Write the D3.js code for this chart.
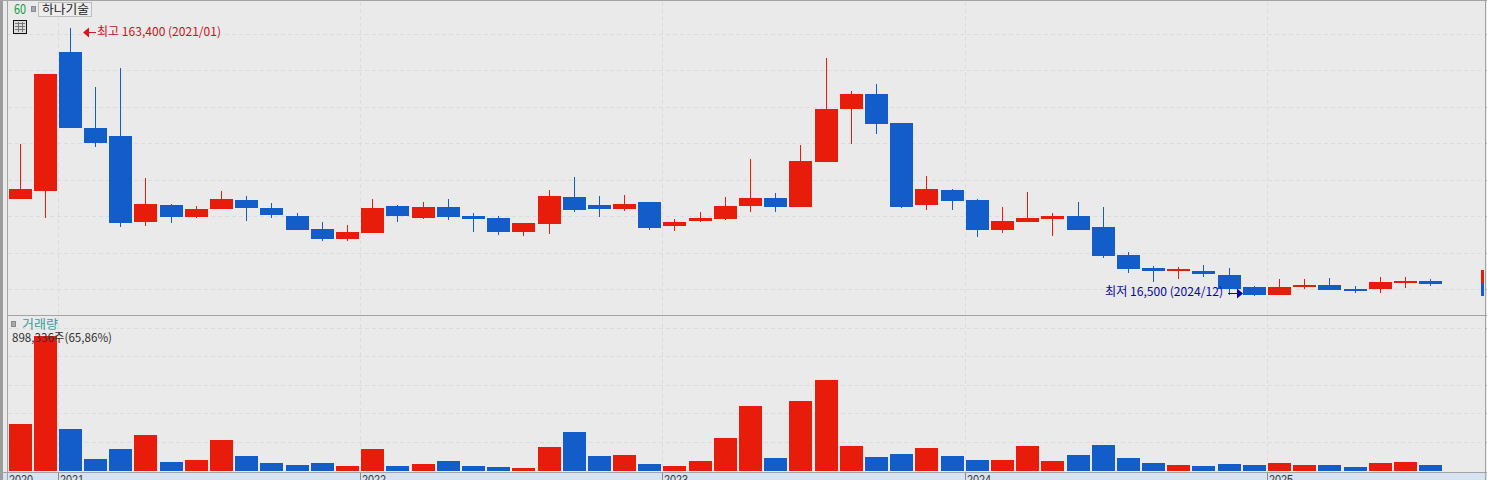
<!DOCTYPE html>
<html>
<head>
<meta charset="utf-8">
<script src="https://cdn.jsdelivr.net/npm/d3@7"></script>
<style>
  html, body { margin: 0; padding: 0; background: #eaeaea; overflow: hidden; }
  svg { display: block; font-family: "Noto Sans CJK KR", sans-serif; font-size: 12px; }
</style>
</head>
<body>
<svg id="chart" width="1487" height="480"></svg>
<script>
const months = [
  '2020/11', '2020/12',
  '2021/01', '2021/02', '2021/03', '2021/04', '2021/05', '2021/06', '2021/07', '2021/08', '2021/09', '2021/10', '2021/11', '2021/12',
  '2022/01', '2022/02', '2022/03', '2022/04', '2022/05', '2022/06', '2022/07', '2022/08', '2022/09', '2022/10', '2022/11', '2022/12',
  '2023/01', '2023/02', '2023/03', '2023/04', '2023/05', '2023/06', '2023/07', '2023/08', '2023/09', '2023/10', '2023/11', '2023/12',
  '2024/01', '2024/02', '2024/03', '2024/04', '2024/05', '2024/06', '2024/07', '2024/08', '2024/09', '2024/10', '2024/11', '2024/12',
  '2025/01', '2025/02', '2025/03', '2025/04', '2025/05', '2025/06', '2025/07'
];
const opens = [
  69700, 74100, 150200, 108600, 104200, 57100, 66400, 59800, 64200, 69100, 64700, 60400, 53200, 47800,
  51000, 65800, 59300, 65300, 60400, 59300, 51600, 56000, 70800, 66400, 64200, 68000,
  54900, 57600, 58700, 65800, 70200, 65300, 90000, 119000, 127200, 111300, 66400, 74600,
  69100, 52700, 57100, 58700, 60400, 54300, 39000, 31900, 30500, 30200, 28000, 21400,
  17100, 21400, 22500, 20300, 20300, 23600, 24700
];
const highs = [
  99800, 138200, 163400, 131100, 141500, 81200, 66900, 65800, 74100, 71300, 67500, 62000, 57100, 55400,
  69700, 66400, 68000, 69700, 62000, 60400, 56500, 74600, 81700, 71300, 71900, 68000,
  58700, 62600, 70800, 91600, 73000, 99300, 147000, 128900, 132700, 111300, 82300, 75200,
  69700, 65300, 73500, 62000, 68000, 65300, 40600, 33000, 32400, 33500, 31900, 22000,
  25800, 25800, 26400, 22000, 26900, 26900, 25800
];
const lows = [
  69700, 59300, 108600, 98200, 54300, 54900, 56500, 59300, 64200, 57600, 59300, 52700, 46700, 46700,
  51000, 57100, 58700, 58200, 51600, 49900, 49400, 50500, 62600, 59800, 63100, 52700,
  52100, 57100, 58200, 62600, 62600, 65300, 90000, 99800, 105300, 64700, 63600, 63600,
  48800, 51000, 57100, 49400, 52700, 37300, 29100, 24200, 25800, 26900, 17100, 16500,
  17100, 20300, 19800, 18200, 18200, 20900, 22000
];
const closes = [
  75200, 138200, 108600, 100400, 56500, 66900, 59800, 64200, 69700, 64700, 60900, 52700, 47800, 51600,
  64700, 60400, 65300, 59800, 58700, 51600, 56500, 71300, 63600, 64200, 66900, 53800,
  57100, 59300, 65800, 70200, 65300, 90500, 119000, 127200, 110800, 65300, 75200, 68600,
  52700, 57600, 59300, 60400, 52700, 38400, 31300, 30200, 31300, 28600, 20300, 17100,
  21400, 22500, 19800, 19800, 24200, 24700, 23100
];
const volumes = [
  312700, 898336, 279500, 79800, 146400, 239500, 59900, 73200, 206300, 99800, 53200, 39900, 53200, 33300,
  146400, 33300, 46600, 66500, 33300, 26600, 20000, 159700, 259500, 99800, 106500, 46600,
  33300, 66500, 219600, 432500, 86500, 465800, 605500, 166400, 93200, 113100, 153000, 99800,
  73200, 73200, 166400, 66500, 106500, 173000, 86500, 53200, 39900, 33300, 46600, 39900,
  53200, 39900, 39900, 26600, 53200, 59900, 39900
];
const yearStarts = ['2021/01', '2022/01', '2023/01', '2024/01', '2025/01'];
const priceTicks = [160000, 140000, 120000, 100000, 80000, 60000, 40000, 20000];
const volumeTicks = [190000, 380000, 570000, 760000, 950000];
const rangeMarker = [
  { from: 30800, to: 23600, up: true },
  { from: 23600, to: 16500, up: false }
];

const RED = '#e81c0a';
const BLUE = '#135dcb';
const GRID = '#dcdcdc';
const FRAME = '#a3a3a3';

const svg = d3.select('#chart');

const x = d3.scaleBand()
  .domain(months)
  .range([9.02, 1442.66])
  .paddingInner(0.08694)
  .paddingOuter(0);
const left = m => Math.floor(x(m));
const mid = m => left(m) + 11;

const price = d3.scaleLinear().domain([16500, 163400]).range([296, 28]);
const vol = d3.scaleLinear().domain([0, 898336]).range([471, 336]);

const candles = months.map((m, i) => ({
  m, open: opens[i], high: highs[i], low: lows[i], close: closes[i], volume: volumes[i],
  up: closes[i] >= opens[i]
}));
const colour = d => d.up ? RED : BLUE;

// frame
svg.append('rect').attr('width', 1487).attr('height', 480).attr('fill', '#eaeaea');
svg.append('rect').attr('x', 0).attr('y', 0).attr('width', 3).attr('height', 480).attr('fill', '#9c9c9c');
svg.append('rect').attr('x', 0).attr('y', 472).attr('width', 1487).attr('height', 8).attr('fill', '#d8e3f1');
svg.append('rect').attr('x', 0).attr('y', 472).attr('width', 3).attr('height', 8).attr('fill', '#9c9c9c');

// grid, right side ticks come with the axes
function gridAxis(scale, ticks) {
  const g = svg.append('g')
    .attr('transform', 'translate(1485,0)')
    .call(d3.axisRight(scale).tickValues(ticks).tickSize(2).tickFormat(''));
  g.select('.domain').remove();
  g.selectAll('.tick').attr('transform', d => `translate(0,${Math.floor(scale(d)) + 0.5})`);
  g.selectAll('.tick line').attr('stroke', FRAME);
  g.selectAll('.tick').append('line')
    .attr('x1', -1477).attr('x2', -4)
    .attr('stroke', GRID)
    .attr('stroke-dasharray', '4 3');
  return g;
}
gridAxis(price, priceTicks);
gridAxis(vol, volumeTicks);

svg.append('g').selectAll('line')
  .data(yearStarts)
  .join('line')
  .attr('x1', d => left(d) - 0.5)
  .attr('x2', d => left(d) - 0.5)
  .attr('y1', 2)
  .attr('y2', 472)
  .attr('stroke', GRID)
  .attr('stroke-dasharray', '4 3');

// candles
const candle = svg.append('g').selectAll('g')
  .data(candles)
  .join('g');

candle.append('rect')
  .attr('x', d => mid(d.m))
  .attr('y', d => Math.round(price(d.high)))
  .attr('width', 1)
  .attr('height', d => Math.round(price(d.low)) - Math.round(price(d.high)))
  .attr('fill', colour);

candle.append('rect')
  .attr('x', d => left(d.m))
  .attr('y', d => Math.round(price(Math.max(d.open, d.close))))
  .attr('width', 23)
  .attr('height', d => Math.max(2, Math.round(price(Math.min(d.open, d.close))) - Math.round(price(Math.max(d.open, d.close)))))
  .attr('fill', colour);

// volume
svg.append('g').selectAll('rect')
  .data(candles)
  .join('rect')
  .attr('x', d => left(d.m))
  .attr('y', d => Math.round(vol(d.volume)))
  .attr('width', 23)
  .attr('height', d => 471 - Math.round(vol(d.volume)))
  .attr('fill', colour);

// current range marker at the right edge
svg.append('g').selectAll('rect')
  .data(rangeMarker)
  .join('rect')
  .attr('x', 1481)
  .attr('y', d => Math.round(price(d.from)))
  .attr('width', 3)
  .attr('height', d => Math.round(price(d.to)) - Math.round(price(d.from)))
  .attr('fill', d => d.up ? RED : BLUE);

// time axis, labels run off the bottom edge as in the original screen
const timeAxis = svg.append('g')
  .attr('transform', 'translate(0,472)')
  .call(d3.axisBottom(x).tickValues(['2020/11', ...yearStarts]).tickSize(8).tickFormat(d => d.slice(0, 4)));
timeAxis.select('.domain').remove();
timeAxis.selectAll('.tick').attr('transform', d => `translate(${d === '2020/11' ? 7.5 : left(d) - 0.5},0)`);
timeAxis.selectAll('.tick line').attr('stroke', '#8a8a8a');
timeAxis.selectAll('.tick text')
  .attr('x', 1.5)
  .attr('y', 3)
  .attr('dy', '0.71em')
  .attr('text-anchor', 'start')
  .attr('fill', '#333')
  .attr('font-family', 'Liberation Sans')
  .attr('font-size', 12)
  .attr('textLength', 24)
  .attr('lengthAdjust', 'spacingAndGlyphs');

// pane borders
svg.append('rect').attr('x', 7).attr('y', 0).attr('width', 1).attr('height', 480).attr('fill', FRAME);
svg.append('rect').attr('x', 0).attr('y', 0).attr('width', 1487).attr('height', 1).attr('fill', FRAME);
svg.append('rect').attr('x', 8).attr('y', 315).attr('width', 1479).attr('height', 1).attr('fill', FRAME);
svg.append('rect').attr('x', 0).attr('y', 472).attr('width', 1487).attr('height', 1).attr('fill', FRAME);
svg.append('rect').attr('x', 1485).attr('y', 0).attr('width', 1).attr('height', 480).attr('fill', FRAME);

// header
function label(text, tx, ty, fill, width, size) {
  const t = svg.append('text')
    .attr('x', tx)
    .attr('y', ty)
    .attr('fill', fill)
    .text(text);
  if (width) t.attr('textLength', width).attr('lengthAdjust', 'spacingAndGlyphs');
  if (size) t.attr('font-size', size);
  return t;
}

label('60', 14, 14, '#179b3c', 12, 13);
svg.append('rect').attr('x', 31.5).attr('y', 6.5).attr('width', 4).attr('height', 5).attr('fill', '#a8a8a8').attr('stroke', '#8a8a8a');
svg.append('rect').attr('x', 38.5).attr('y', 2.5).attr('width', 53).attr('height', 14).attr('fill', '#ededed').attr('stroke', '#bdbdbd');
label('하나기술', 42, 14, '#222', 47);

// table icon
svg.append('rect').attr('x', 13.5).attr('y', 20.5).attr('width', 13).attr('height', 13).attr('fill', '#dcdcdc').attr('stroke', '#111');
svg.append('g').selectAll('line')
  .data([18.5, 22.5])
  .join('line')
  .attr('x1', d => d).attr('x2', d => d)
  .attr('y1', 22).attr('y2', 32)
  .attr('stroke', '#777');
svg.append('g').selectAll('line')
  .data([23.5, 26.5, 29.5])
  .join('line')
  .attr('x1', 15).attr('x2', 25)
  .attr('y1', d => d).attr('y2', d => d)
  .attr('stroke', '#777');

// high / low labels
label('최고 163,400 (2021/01)', 97, 36, '#d0101a', 124);
svg.append('line').attr('x1', 88).attr('x2', 96).attr('y1', 32.5).attr('y2', 32.5).attr('stroke', '#d8141c');
svg.append('path').attr('d', d3.line()([[83, 32.5], [89, 27.5], [89, 37.5]])).attr('fill', '#d8141c');

label('최저 16,500 (2024/12)', 1105, 296, '#0808a0', 118);
svg.append('line').attr('x1', 1228).attr('x2', 1238).attr('y1', 293.5).attr('y2', 293.5).attr('stroke', '#0000c8');
svg.append('path').attr('d', d3.line()([[1243, 293.5], [1237, 288.5], [1237, 298.5]])).attr('fill', '#0000c8');

// volume pane labels
svg.append('rect').attr('x', 11.5).attr('y', 321.5).attr('width', 4).attr('height', 5).attr('fill', '#a8a8a8').attr('stroke', '#8a8a8a');
label('거래량', 22, 329, '#3a9a9a', 36);
label('898,336주(65,86%)', 12, 342, '#333', 100);
</script>
</body>
</html>
